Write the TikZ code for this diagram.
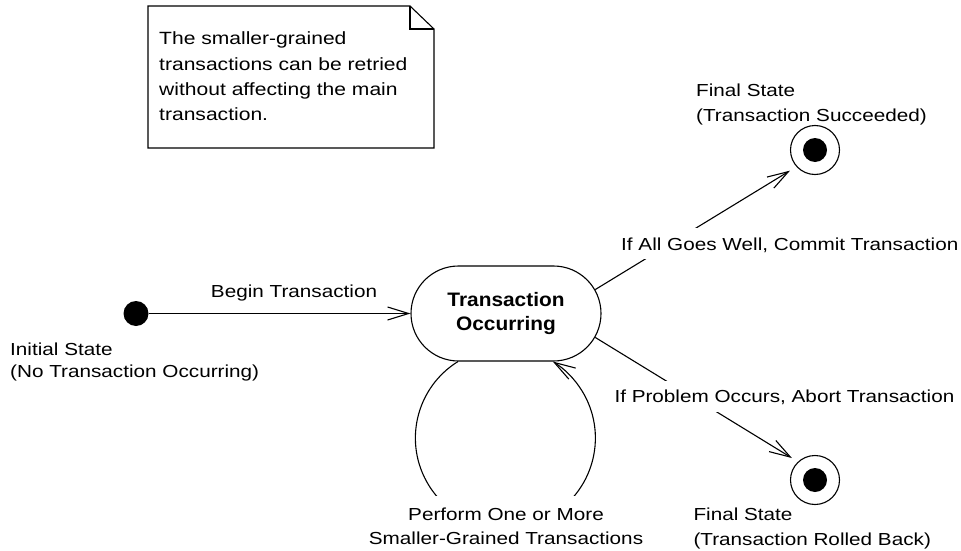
\documentclass[tikz,border=0pt]{standalone}
\usepackage{fontspec}
\setmainfont{Liberation Sans}[FakeStretch=1.19]
\newfontfamily\boldfam{Liberation Sans}[FakeStretch=1.07]
\usetikzlibrary{arrows.meta,shapes.misc}
\begin{document}
\begin{tikzpicture}[x=1pt,y=1pt]
\tikzset{
 ln/.style={line width=1.1pt},
 arr/.style={ln, -{Straight Barb[length=21pt,width=13pt,line width=1.1pt]}},
 lbl/.style={inner sep=0pt, font=\fontsize{17.4}{24}\selectfont},
 onarrow/.style={lbl, fill=white, inner xsep=2pt, text height=22pt, text depth=9pt},
 stbox/.style={rounded rectangle, draw, ln, minimum width=190pt, minimum height=95pt, inner sep=0pt},
 initst/.style={circle, fill, minimum size=25pt, inner sep=0pt},
 finalst/.style={circle, draw, ln, minimum size=49pt, inner sep=0pt,
   path picture={\fill (path picture bounding box.center) circle[radius=12pt];}},
}
\useasboundingbox (0,0) rectangle (961,-551);

% note
\draw[ln] (148,-6) -- (410,-6) -- (434,-29) -- (434,-148) -- (148,-148) -- cycle;
\draw[ln] (410,-6) -- (410,-29) -- (434,-29);
\node[lbl, anchor=base west, font=\fontsize{17.7}{25.2}\selectfont] (notetext) at (159,-45)
  {\begin{tabular}[t]{@{}l@{}}The smaller-grained\\transactions can be retried\\without affecting the main\\transaction.\end{tabular}};

% states
\node[initst] (init) at (136,-313.5) {};
\node[stbox, font=\boldfam\bfseries\fontsize{19.5}{24.4}\selectfont] (main) at (506,-313.5)
  {\begin{tabular}[t]{@{}c@{}}Transaction\\Occurring\end{tabular}};
\node[finalst] (fs1) at (815,-150) {};
\node[finalst] (fs2) at (815,-480) {};

% state labels
\node[lbl, anchor=base west, font=\fontsize{17.4}{22.7}\selectfont] (initlbl) at (10,-355)
  {\begin{tabular}[t]{@{}l@{}}Initial State\\(No Transaction Occurring)\end{tabular}};
\node[lbl, anchor=base west, font=\fontsize{17.4}{25}\selectfont] (fs1lbl) at (696,-96)
  {\begin{tabular}[t]{@{}l@{}}Final State\\(Transaction Succeeded)\end{tabular}};
\node[lbl, anchor=base west, font=\fontsize{17.4}{24.3}\selectfont] (fs2lbl) at (693.3,-520.7)
  {\begin{tabular}[t]{@{}l@{}}Final State\\(Transaction Rolled Back)\end{tabular}};

% connectors
\draw[arr] (init) -- (main);
\node[lbl, anchor=base] (begin) at (294,-297.3) {Begin Transaction};

\draw[arr, shorten >=7.5pt] (main.15.5) -- (fs1.222.5);
\node[onarrow, anchor=base west] (commit) at (619,-250) {If All Goes Well, Commit Transaction};

\draw[arr, shorten >=7pt] (main.345.7) -- (fs2.133.7);
\node[onarrow, anchor=base west] (abort) at (612.3,-402.7) {If Problem Occurs, Abort Transaction};

\draw[arr] (main.225) arc[start angle=121.8, end angle=418.2, radius=90pt];
\node[lbl, anchor=base, fill=white, inner xsep=2pt, inner ysep=7pt] (perform) at (506,-520)
  {\begin{tabular}[t]{@{}c@{}}Perform One or More\\Smaller-Grained Transactions\end{tabular}};
\end{tikzpicture}
\end{document}
